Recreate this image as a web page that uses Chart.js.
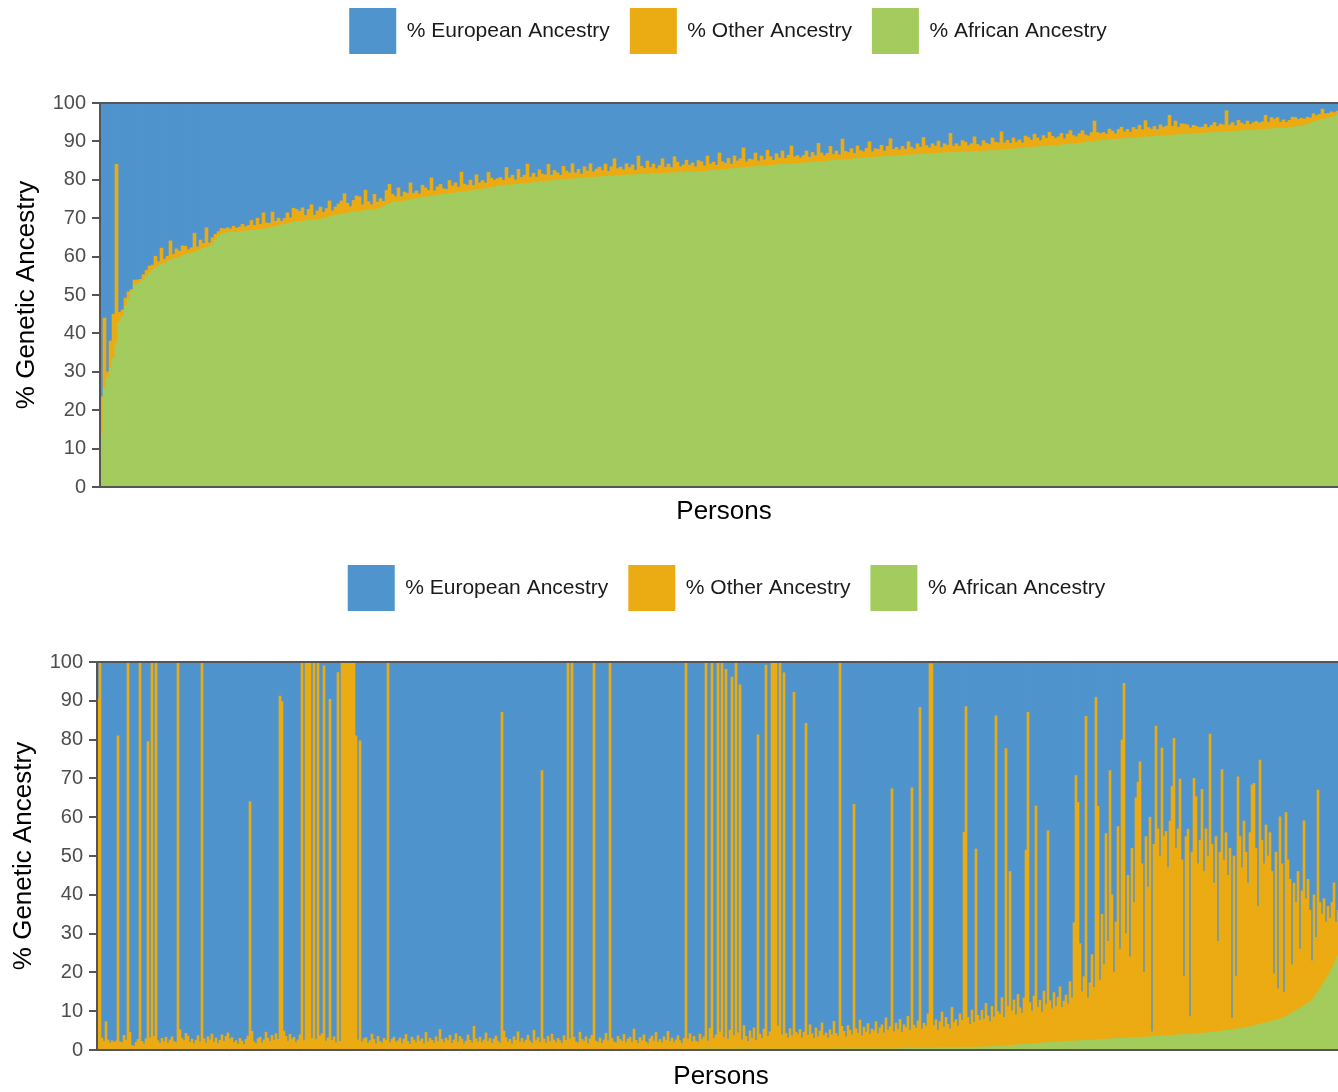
<!DOCTYPE html>
<html lang="en">
<head>
<meta charset="UTF-8">
<title>Genetic ancestry by person</title>
<script src="https://cdn.jsdelivr.net/npm/chart.js@4"></script>
<style>
  html, body { margin: 0; padding: 0; background: #fff; width: 1338px; height: 1092px; overflow: hidden; }
  canvas { position: absolute; left: 0; }
  #topChart { top: -12px; }
  #bottomChart { top: 545px; }
</style>
</head>
<body>
<canvas id="topChart" width="1370" height="541"></canvas>
<canvas id="bottomChart" width="1370" height="547"></canvas>
<script>
// ---- upper panel: one bar per person, sorted by African ancestry ----
const topAfrican = [
  14, 26, 28.5, 31, 33.5, 37.5, 43, 44.5, 47, 49,
  50.9, 52.6, 52.9, 53.3, 53.8, 54.8, 55.7, 56.4, 57, 57.5,
  57.9, 58.3, 58.7, 59.1, 59.4, 59.6, 59.9, 60.2, 60.5, 60.7,
  60.9, 61.2, 61.5, 61.8, 62.1, 62.4, 62.7, 63.1, 64.2, 65.3,
  65.8, 66.1,
  66.2, 66.3, 66.3, 66.4, 66.5, 66.6, 66.7, 66.7, 66.8, 66.9, 67.0, 67.1, 67.2, 67.3,
  67.5, 67.6, 67.8, 68.0, 68.2, 68.4, 68.6, 68.8, 69.0,
  69.1, 69.2, 69.2, 69.3, 69.4, 69.5, 69.6, 69.7, 69.8,
  69.9, 70.1, 70.3, 70.6, 70.8, 70.9, 71.0, 71.2, 71.3, 71.5, 71.6,
  71.7, 71.8, 71.9, 72.0, 72.1, 72.2, 72.3, 72.4, 72.6, 73.0, 73.5, 73.8, 74.1,
  74.2, 74.3, 74.4, 74.5, 74.7, 74.8, 75.0, 75.1, 75.2, 75.4, 75.5, 75.6, 75.7, 75.8, 76.0,
  76.1, 76.2, 76.3, 76.4, 76.5, 76.6, 76.7, 76.8, 76.9, 77.0, 77.1, 77.2, 77.4, 77.5, 77.6,
  77.7, 77.8, 78.0, 78.1, 78.3,
  78.4, 78.5, 78.6, 78.7, 78.7, 78.8, 78.9, 79.0, 79.1, 79.1, 79.2, 79.3, 79.4, 79.5, 79.5,
  79.6, 79.7, 79.8, 79.8, 79.9, 80.0, 80.0, 80.1, 80.2, 80.2, 80.3, 80.4, 80.4, 80.5, 80.5,
  80.6, 80.7, 80.7, 80.8,
  80.8, 80.9, 80.9, 81.0, 81.0, 81.1, 81.1, 81.2, 81.2, 81.3, 81.3, 81.3, 81.4, 81.4, 81.5,
  81.5, 81.5, 81.6, 81.6, 81.7, 81.7, 81.7, 81.8, 81.8, 81.8, 81.9, 81.9, 81.9, 82.0, 82.0,
  82.0, 82.1, 82.1,
  82.2, 82.2, 82.3, 82.4, 82.4, 82.5, 82.6, 82.7, 82.7, 82.8, 82.9, 82.9, 83.0, 83.1, 83.2,
  83.2, 83.3, 83.4, 83.4, 83.5, 83.6, 83.6, 83.7, 83.8, 83.8, 83.9, 84.0, 84.0, 84.1, 84.1,
  84.2, 84.2, 84.3, 84.3,
  84.4, 84.4, 84.5, 84.6, 84.6, 84.7, 84.8, 84.8, 84.9, 85.0, 85.0, 85.1, 85.2, 85.2, 85.3,
  85.3, 85.4, 85.5, 85.5, 85.6, 85.7, 85.7, 85.8, 85.8, 85.9, 86.0, 86.0, 86.1, 86.1, 86.2,
  86.2, 86.3, 86.3,
  86.4, 86.4, 86.5, 86.5, 86.6, 86.6, 86.7, 86.7, 86.8, 86.8, 86.8, 86.9, 86.9, 87.0, 87.0,
  87.0, 87.1, 87.1, 87.2, 87.2, 87.2, 87.3, 87.3, 87.3, 87.4, 87.4, 87.4, 87.5, 87.5, 87.6,
  87.6, 87.6, 87.7,
  87.8, 87.8, 87.9, 88.0, 88.0, 88.1, 88.2, 88.2, 88.3, 88.4, 88.4, 88.5, 88.6, 88.6, 88.7,
  88.8, 88.8, 88.9, 89.0, 89.0, 89.1, 89.2, 89.2, 89.3, 89.4, 89.5, 89.5, 89.6, 89.7, 89.8,
  89.9, 90.0, 90.1, 90.2,
  90.3, 90.3, 90.4, 90.5, 90.5, 90.6, 90.7, 90.7, 90.8, 90.8, 90.9, 91.0, 91.0, 91.1, 91.1,
  91.2, 91.2, 91.3, 91.4, 91.4, 91.5, 91.5, 91.6, 91.6, 91.7, 91.7, 91.8, 91.8, 91.9, 91.9,
  92.0, 92.0, 92.1,
  92.1, 92.2, 92.2, 92.3, 92.3, 92.4, 92.4, 92.5, 92.5, 92.6, 92.6, 92.7, 92.7, 92.8, 92.8,
  92.9, 92.9, 93.0, 93.0, 93.1, 93.1, 93.2, 93.2, 93.3, 93.3, 93.4, 93.4, 93.5, 93.5, 93.6,
  93.7, 93.8, 93.9,
  94.0, 94.2, 94.5, 94.8, 95.0, 95.3, 95.5, 95.7, 95.9, 96.1, 96.3, 96.6, 96.9, 97.1, 97.4, 97.7
];

const topOther = [
  9.5, 18, 1.5, 7, 11.5, 46.5, 2.5, 1.6, 2.2, 1.8,
  0.5, 1.3, 1.0, 0.8, 1.5, 1.6, 1.8, 1.4, 3.1, 1.2,
  4.3, 1.0, 1.4, 5.0, 1.2, 2.4, 1.5, 2.6, 2.2, 1.1,
  1.4, 4.9, 1.0, 2.5, 1.3, 5.1, 0.9, 1.8, 1.6, 1.2,
  1.5, 1.1,
  1.3, 0.9, 1.6, 1.0, 1.2, 1.8, 1.1, 1.4, 2.6, 1.2, 3.0, 1.3, 4.2, 1.5,
  1.2, 4.0, 1.4, 2.0, 1.0, 1.5, 2.8, 1.3, 3.6,
  3.2, 2.6, 3.5, 1.4, 2.9, 4.0, 1.2, 2.2, 3.1,
  1.6, 2.4, 4.2, 1.3, 2.1, 2.8, 3.5, 5.2, 2.6, 1.5, 3.0,
  4.1, 3.8, 1.6, 5.3, 2.2, 1.3, 3.9, 1.8, 2.5, 1.4, 3.7, 5.0, 2.1,
  1.4, 3.6, 1.2, 2.3, 1.8, 4.4, 1.5, 2.0, 1.1, 3.2, 2.4, 1.6, 4.8, 1.3, 2.2,
  2.7, 1.5, 1.2, 3.4, 1.9, 2.6, 1.4, 5.2, 2.0, 1.6, 2.8, 1.3, 3.9, 1.7, 2.2,
  1.5, 4.1, 2.4, 1.8, 2.0,
  2.2, 1.4, 4.6, 1.8, 2.5, 1.2, 3.8, 1.6, 2.1, 5.0, 1.5, 2.4, 1.3, 3.1, 2.0,
  1.7, 4.3, 1.4, 2.6, 1.9, 1.2, 3.5, 2.2, 1.6, 4.0, 1.5, 2.3, 1.1, 2.9, 1.8,
  3.6, 1.4, 2.1, 2.5,
  1.6, 3.2, 1.3, 2.4, 4.5, 1.8, 2.2, 1.4, 3.0, 1.9, 2.6, 1.2, 4.8, 2.1, 1.5,
  3.4, 1.7, 2.5, 1.3, 2.0, 3.8, 1.6, 2.3, 1.4, 4.2, 2.7, 1.5, 2.0, 3.1, 1.8,
  2.4, 1.3, 2.9,
  2.5, 1.4, 3.9, 1.7, 2.2, 1.3, 4.4, 2.0, 1.6, 2.8, 1.2, 3.3, 1.9, 2.4, 5.1,
  1.5, 2.1, 1.8, 3.6, 1.4, 2.6, 1.6, 4.0, 2.2, 1.3, 2.9, 1.7, 3.5, 1.5, 2.3,
  4.6, 1.8, 2.0, 1.4,
  1.9, 3.1, 1.4, 2.5, 1.7, 4.8, 2.2, 1.5, 2.0, 3.7, 1.6, 2.4, 1.3, 5.4, 2.1,
  1.8, 2.7, 1.4, 3.3, 2.0, 1.6, 2.5, 4.1, 1.5, 2.2, 1.9, 3.0, 1.4, 2.6, 4.5,
  1.7, 2.1, 1.5,
  2.3, 1.6, 3.4, 2.0, 1.4, 2.8, 1.8, 4.3, 2.1, 1.5, 2.6, 1.9, 3.2, 1.4, 2.4,
  2.0, 5.0, 1.7, 2.2, 1.5, 3.0, 2.5, 1.6, 2.1, 3.8, 1.8, 1.4, 2.7, 2.0, 1.6,
  3.3, 2.2, 1.9,
  4.7, 1.8, 2.4, 1.5, 2.9, 1.7, 2.2, 1.4, 3.1, 2.6, 1.9, 3.4, 2.3, 1.6, 2.8,
  2.0, 3.6, 2.4, 1.8, 2.2, 3.0, 1.5, 2.7, 3.5, 2.1, 1.7, 2.5, 3.2, 2.0, 1.6,
  2.4, 5.3, 2.2, 1.8,
  2.0, 1.6, 2.8, 2.2, 1.5, 2.5, 3.0, 1.8, 2.3, 1.6, 2.7, 2.1, 3.2, 1.9, 4.3,
  2.4, 2.0, 2.6, 1.7, 2.9, 2.2, 2.5, 5.2, 2.3, 3.6, 2.0, 2.8, 2.7, 2.4, 1.6,
  2.2, 1.9, 1.5,
  1.6, 2.2, 1.4, 1.9, 2.6, 1.5, 2.1, 1.8, 5.5, 1.7, 2.3, 1.4, 2.8, 2.0, 1.6,
  2.4, 1.5, 1.9, 2.2, 1.7, 2.0, 3.6, 1.8, 2.9, 2.5, 2.8, 1.6, 2.1, 1.5, 1.9,
  2.6, 2.4, 1.8,
  2.0, 1.6, 1.8, 1.3, 2.2, 1.4, 1.5, 2.7, 1.3, 1.2, 1.4, 0.9, 1.0, 0.8, 0.9, 0.6
];

// ---- lower panel ----
const bottomAfrican = [
  0, 0, 0, 0, 0, 0, 0, 0, 0, 0, 0, 0, 0, 0, 0, 0, 0, 0, 0, 0, 0, 0, 0, 0, 0, 0, 0, 0, 0, 0,
  0, 0, 0, 0, 0, 0, 0, 0, 0, 0, 0, 0, 0, 0, 0, 0, 0, 0, 0, 0, 0, 0, 0, 0, 0, 0, 0, 0, 0, 0,
  0, 0, 0, 0, 0, 0, 0, 0, 0, 0, 0, 0, 0, 0, 0, 0, 0, 0, 0, 0, 0, 0, 0, 0, 0, 0, 0, 0, 0, 0,
  0, 0, 0, 0, 0, 0, 0, 0, 0, 0, 0, 0, 0, 0, 0, 0, 0, 0, 0, 0, 0, 0, 0, 0, 0, 0, 0, 0, 0, 0,
  0, 0, 0, 0, 0, 0, 0, 0, 0, 0, 0, 0, 0, 0, 0, 0, 0, 0, 0, 0, 0, 0, 0, 0, 0, 0, 0, 0, 0, 0,
  0, 0, 0, 0, 0, 0, 0, 0, 0, 0, 0, 0, 0, 0, 0, 0, 0, 0, 0, 0, 0, 0, 0, 0, 0, 0, 0, 0, 0, 0,
  0, 0, 0, 0, 0, 0, 0, 0, 0, 0, 0, 0, 0, 0, 0, 0, 0, 0, 0, 0, 0, 0, 0, 0, 0, 0, 0, 0, 0, 0,
  0, 0, 0, 0, 0, 0, 0, 0, 0, 0, 0, 0, 0, 0, 0, 0, 0, 0, 0, 0, 0, 0, 0, 0, 0, 0, 0, 0, 0, 0,
  0, 0, 0, 0, 0, 0, 0, 0, 0, 0, 0, 0, 0, 0, 0, 0, 0, 0, 0, 0, 0, 0, 0, 0, 0, 0, 0, 0, 0, 0,
  0, 0, 0, 0, 0, 0, 0, 0, 0, 0, 0, 0, 0, 0, 0, 0, 0, 0, 0, 0, 0, 0, 0, 0, 0, 0, 0, 0, 0, 0,
  0.1, 0.1, 0.1, 0.1, 0.1, 0.1, 0.1, 0.1, 0.1, 0.1, 0.1, 0.1, 0.1, 0.1, 0.1,
  0.1, 0.1, 0.1, 0.1, 0.1, 0.1, 0.1, 0.1, 0.1, 0.1, 0.1, 0.1, 0.1, 0.1, 0.1,
  0.2, 0.2, 0.2, 0.2, 0.2, 0.2, 0.2, 0.2, 0.2, 0.2, 0.2, 0.2, 0.2, 0.2, 0.2, 0.2, 0.2, 0.2, 0.2, 0.2,
  0.2, 0.2, 0.2, 0.2, 0.2, 0.2, 0.2, 0.2, 0.2, 0.2, 0.2, 0.2, 0.2, 0.2, 0.2, 0.2, 0.2, 0.2, 0.2, 0.2,
  0.3, 0.3, 0.3, 0.3, 0.3, 0.3, 0.3, 0.3, 0.3, 0.3, 0.3, 0.3, 0.3, 0.3, 0.3, 0.3,
  0.3, 0.3, 0.3, 0.3, 0.3, 0.3, 0.3, 0.3, 0.3, 0.3, 0.3, 0.3, 0.3, 0.3, 0.3,
  0.4, 0.4, 0.4, 0.4, 0.4, 0.4, 0.4, 0.4, 0.4, 0.4,
  0.5, 0.5, 0.5, 0.5, 0.5, 0.5, 0.5, 0.5, 0.5, 0.5,
  0.6, 0.6, 0.6, 0.6, 0.6, 0.6, 0.6, 0.6, 0.6, 0.6,
  0.7, 0.7, 0.7, 0.7, 0.7, 0.7, 0.7, 0.7, 0.7, 0.7,
  0.8, 0.8, 0.8, 0.8, 0.8, 0.8, 0.9, 0.9, 0.9, 0.9, 0.9,
  1.0, 1.0, 1.1, 1.1, 1.2, 1.2, 1.3, 1.3,
  1.3, 1.4, 1.4, 1.5, 1.5, 1.5, 1.6, 1.6, 1.7, 1.7,
  1.7, 1.8, 1.8, 1.8, 1.9, 1.9, 2.0, 2.0, 2.0, 2.1,
  2.1, 2.1, 2.2, 2.2, 2.2, 2.3, 2.3, 2.3, 2.3, 2.4,
  2.4, 2.4, 2.4, 2.5, 2.5, 2.5, 2.5, 2.6, 2.6, 2.6, 2.7, 2.7,
  2.7, 2.8, 2.8, 2.8, 2.9, 2.9, 2.9, 3.0, 3.0, 3.0, 3.0, 3.1, 3.1, 3.1, 3.1,
  3.2, 3.2, 3.2, 3.2, 3.3, 3.3, 3.3, 3.3, 3.4, 3.4,
  3.5, 3.5, 3.5, 3.6, 3.6, 3.6, 3.7, 3.7, 3.7, 3.8, 3.8, 3.8, 3.9, 3.9, 3.9, 4.0, 4.0,
  4.0, 4.1, 4.1, 4.1, 4.2, 4.2, 4.2, 4.3, 4.3, 4.4, 4.4, 4.5, 4.5, 4.6, 4.6, 4.7,
  4.8, 4.8, 4.9, 5.0, 5.0, 5.1, 5.2, 5.2, 5.3, 5.4, 5.5, 5.5, 5.6, 5.7, 5.8, 5.9, 6.0,
  6.1, 6.2, 6.4, 6.5, 6.6, 6.8, 6.9, 7.0, 7.2, 7.3, 7.4, 7.6, 7.7, 7.9, 8.0, 8.2,
  8.4, 8.7, 9.0, 9.3, 9.6, 9.9, 10.2, 10.5, 10.8, 11.1, 11.4, 11.8, 12.1, 12.5,
  12.9, 13.6, 14.3, 15.1, 15.9, 16.7, 17.5, 18.3,
  19.2, 20.1, 21.1, 22.1, 23.2, 24.3, 25.5, 26.8, 28.0
];

const bottomOther = [
  90.5, 100, 3.1, 2.2, 7.3, 2.6, 1.8, 2.4, 2.0, 2.3,
  81, 2.1, 1.9, 3.8, 2.5, 100, 4.6, 1.2, 0.9, 2.0,
  2.7, 100, 2.2, 1.6, 2.9, 79.5, 3.1, 100, 3.5, 100,
  2.4, 1.7, 3.0, 2.1, 3.3, 1.8, 2.6, 3.4, 2.2, 1.9,
  100, 5.2, 3.0, 2.4, 4.3, 3.6, 2.0, 2.8, 1.6, 2.5,
  3.7, 2.1, 100, 2.9, 1.8, 3.4, 2.6, 4.1, 2.0, 3.1,
  1.7, 2.5, 3.9, 2.2, 3.5, 4.4, 2.8, 3.2, 1.9, 2.4,
  1.5, 3.0, 2.3, 1.4, 2.7, 3.6, 64, 4.8, 2.1, 1.6,
  2.9, 3.3, 1.8, 2.6, 4.6, 3.1, 2.2, 3.8, 2.5, 4.2,
  2.7, 91.2, 89.8, 4.9, 3.5, 2.3, 4.0, 2.8, 3.3, 1.9,
  2.6, 3.9, 100, 2.4, 100, 100, 100, 3.0, 100, 2.7,
  100, 3.6, 4.2, 99, 2.3, 3.1, 90.4, 2.5, 3.4, 1.9,
  97.3, 2.2, 100, 100, 100, 100, 100, 100, 100, 81,
  2.6, 79.7, 2.1, 2.9, 3.2, 1.8, 2.4, 4.1, 2.7, 1.6,
  3.5, 2.2, 1.8, 3.0, 2.5, 100, 1.9, 2.8, 3.3, 2.0,
  2.4, 3.1, 1.7, 2.8, 4.0, 2.2, 1.5, 3.3, 2.6, 1.9,
  3.7, 2.3, 2.9, 1.6, 4.5, 2.1, 3.0, 2.5, 1.8, 3.4,
  2.2, 5.3, 2.7, 1.9, 3.1, 2.4, 3.8, 1.7, 2.6, 4.2,
  2.0, 3.5, 2.8, 1.6, 2.3, 3.9, 2.5, 1.8, 6.1, 2.9,
  2.1, 3.3, 1.9, 2.6, 4.4, 2.2, 3.0, 1.7, 2.8, 3.6,
  2.3, 1.8, 87, 4.9, 3.2, 2.0, 2.7, 1.6, 3.4, 2.5,
  4.7, 2.1, 3.0, 1.9, 2.6, 3.8, 2.3, 1.7, 5.1, 2.4,
  3.2, 2.0, 72, 2.8, 1.8, 3.5, 2.2, 4.1, 2.6, 1.9,
  3.0, 2.4, 1.7, 3.7, 2.5, 100, 2.9, 100, 3.3, 2.1,
  1.8, 4.6, 2.7, 2.2, 3.4, 1.6, 2.9, 3.8, 100, 2.3,
  2.0, 3.1, 1.7, 2.6, 4.3, 2.4, 100, 3.0, 2.1, 1.8,
  3.5, 2.7, 2.2, 4.0, 1.9, 2.8, 3.3, 2.0, 5.4, 2.5,
  1.7, 3.2, 2.4, 3.9, 2.1, 1.6, 2.9, 3.6, 2.3, 4.5,
  2.0, 2.7, 1.8, 3.4, 2.5, 4.8, 2.2, 3.1, 1.9, 2.6,
  3.7, 2.4, 1.7, 3.0, 100, 2.8, 4.2, 2.1, 3.5, 2.3,
  1.9, 4.0, 2.6, 3.3, 100, 2.2, 5.5, 100, 2.9, 3.8,
  100, 4.6, 100, 3.1, 98, 2.7, 5.0, 96, 3.6, 100,
  4.3, 94, 2.5, 6.2, 3.4, 2.1, 4.8, 3.0, 5.6, 2.4,
  81, 3.9, 2.8, 5.2, 99, 3.3, 4.5, 100, 100, 100,
  6.0, 100, 3.7, 97, 4.1, 2.9, 5.3, 3.5, 92, 4.4,
  3.8, 5.1, 2.9, 4.4, 84, 3.6, 6.3, 4.0, 2.8, 5.5,
  3.2, 4.7, 6.8, 3.5, 4.2, 2.9, 5.0, 3.7, 7.2, 4.1,
  3.3, 100, 5.8, 4.5, 3.1, 6.0, 4.8, 3.6, 63, 5.2,
  4.0, 7.4, 3.4, 5.6, 4.3, 6.5, 3.8, 5.1, 4.6, 7.0,
  3.9, 5.4, 6.2, 4.1, 8.0, 4.8, 5.7, 67, 4.4, 6.6,
  5.0, 7.5, 4.2, 6.1, 5.4, 8.3, 4.7, 67.2, 6.0, 5.2,
  7.1, 87.8, 4.9, 6.4, 5.6, 8.8, 99, 99, 5.8, 7.3,
  4.6, 6.7, 9.2, 5.3, 7.8, 6.0, 4.8, 10.4, 6.5, 7.2,
  5.5, 8.6, 6.9, 55.4, 87.8, 7.7, 5.9, 9.6, 6.4, 51.1,
  8.2,
  6.8, 9.4, 7.1, 11.2, 8.0, 6.5, 10.3, 7.6, 85.2, 9.0,
  8.3, 12.5, 7.4, 76.6, 10.1, 44.8, 8.9, 11.6, 7.8, 13.0,
  9.5, 8.1, 11.9, 50, 85.5, 10.6, 8.4, 12.2, 61.2, 9.3,
  11.0, 7.9, 13.4, 9.8, 54.6, 10.7, 8.6, 12.8, 9.1, 11.5,
  14.2, 8.8, 10.4, 12.0, 9.6, 15.3, 11.1, 30.5, 68.3, 61.4,
  25.0, 12.6, 16.4, 83.5, 10.9, 14.8, 22.0, 13.5, 88.3, 60.1,
  15.3, 32.3, 19.2, 53.0, 25.2, 69.1, 37.1, 17.1, 30.0, 54.6,
  23.0, 76.9, 91.4, 26.9, 41.9, 20.9, 48.8, 34.8, 61.8, 65.8,
  71.0, 44.7, 16.7, 51.7, 38.6, 56.6,
  1.2, 49.5, 80.0, 53.4, 46.4, 74.2, 51.3, 52.6, 43.3, 55.2,
  64.1, 76.5, 48.1, 53.1, 65.9, 45.0, 15.0, 51.0, 52.8, 4.5,
  46.9, 65.8, 61.1, 43.8, 49.7, 62.9, 41.6, 52.6, 45.5, 76.9,
  48.4, 38.4, 50.3, 23.2, 46.2, 67.4, 44.0, 51.0, 39.9, 46.8,
  3.0, 44.7, 13.6, 64.9, 49.5, 41.4, 53.3, 45.2, 37.1, 50.0,
  62.2, 62.5, 45.6, 30.5, 68.1, 47.2, 41.1, 51.0, 42.8, 48.7,
  38.6, 12.0, 43.3, 7.9, 52.1, 39.8, 6.5, 52.5, 40.0, 34.7,
  12.4, 33.1, 27.8, 35.5, 15.2, 29.9, 47.7, 27.2, 31.9, 23.5,
  10.1, 26.4, 14.7, 51.9, 22.1, 18.3, 21.5, 14.7, 17.8, 13.9,
  16.9, 21.0, 9.8, 11.7, 9.5, 11.2, 8.0
];

const yTicks = [0, 10, 20, 30, 40, 50, 60, 70, 80, 90, 100];

Chart.defaults.font.family = "'Liberation Sans', Arial, Helvetica, sans-serif";
Chart.defaults.color = '#1a1a1a';

const COLORS = { european: '#4f94cd', other: '#ebab13', african: '#a3cb5d' };
const FRAME = '#555555';

// pushes the plot down below the legend and nudges the legend sideways
function legendPlacement(gap, shift) {
  return {
    id: 'legendPlacement',
    beforeInit(chart) {
      const fit = chart.legend.fit;
      chart.legend.fit = function () {
        fit.call(this);
        this.height += gap;
      };
    },
    afterLayout(chart) {
      chart.legend.left += shift;
      chart.legend.right += shift;
    }
  };
}

// panel outline drawn over the bars
const panelFrame = {
  id: 'panelFrame',
  afterDatasetsDraw(chart) {
    const { ctx, chartArea: a } = chart;
    ctx.save();
    ctx.strokeStyle = FRAME;
    ctx.lineWidth = 2;
    ctx.strokeRect(a.left, a.top, a.right - a.left, a.bottom - a.top);
    ctx.restore();
  }
};

function ancestryChart(id, african, other, opt) {
  const european = african.map((a, i) => Math.max(0, 100 - a - other[i]));
  const persons = african.map((_, i) => i + 1);

  return new Chart(document.getElementById(id), {
    type: 'bar',
    data: {
      labels: persons,
      datasets: [
        { label: '% African Ancestry', data: african, backgroundColor: COLORS.african },
        { label: '% Other Ancestry', data: other, backgroundColor: COLORS.other },
        { label: '% European Ancestry', data: european, backgroundColor: COLORS.european }
      ]
    },
    options: {
      responsive: false,
      animation: false,
      devicePixelRatio: 1,
      datasets: { bar: { barPercentage: 1, categoryPercentage: 1, borderWidth: 0 } },
      layout: { padding: { left: 0, right: opt.right, top: 0, bottom: 0 } },
      plugins: {
        legend: {
          reverse: true,
          labels: { boxWidth: 47, boxHeight: 46, padding: 20, color: '#1a1a1a', font: { size: 21 } }
        },
        tooltip: { enabled: false }
      },
      scales: {
        x: {
          stacked: true,
          grid: { display: false, drawTicks: false },
          border: { display: false },
          ticks: { display: false },
          title: {
            display: true, text: 'Persons', color: '#000',
            font: { size: 26, lineHeight: 1 }, padding: opt.xTitlePad
          }
        },
        y: {
          stacked: true,
          min: 0,
          max: 100,
          afterBuildTicks(scale) { scale.ticks = yTicks.map(v => ({ value: v })); },
          afterFit(scale) { scale.width = opt.axisWidth; },
          ticks: { color: '#4d4d4d', font: { size: 20 }, padding: 6 },
          grid: { drawOnChartArea: false, tickLength: 8, color: FRAME, lineWidth: 2 },
          border: { display: false },
          title: {
            display: true, text: '% Genetic Ancestry', color: '#000',
            font: { size: 26, lineHeight: 1 }, padding: { top: opt.yTitlePad, bottom: 0 }
          }
        }
      }
    },
    plugins: [legendPlacement(opt.legendGap, opt.legendShift), panelFrame]
  });
}

ancestryChart('topChart', topAfrican, topOther, {
  axisWidth: 100, right: 22, legendGap: 39, legendShift: 54,
  yTitlePad: 14, xTitlePad: { top: 12, bottom: 4 }
});

ancestryChart('bottomChart', bottomAfrican, bottomOther, {
  axisWidth: 97, right: 25, legendGap: 41, legendShift: 54,
  yTitlePad: 11, xTitlePad: { top: 14, bottom: 2 }
});
</script>
</body>
</html>
